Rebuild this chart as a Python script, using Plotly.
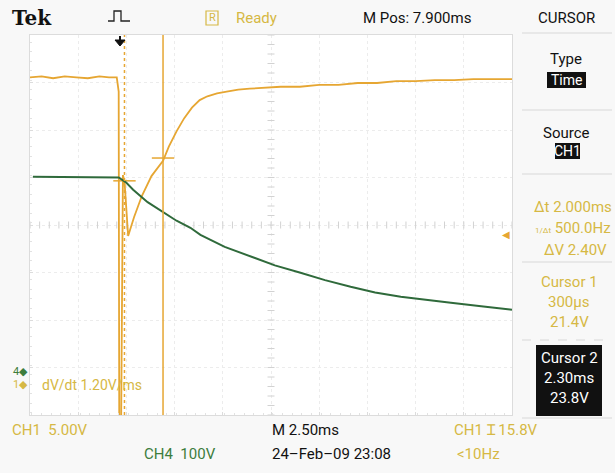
import plotly.graph_objects as go

# ---- acquisition settings -------------------------------------------------
TIME_PER_DIV = 2.5          # ms / div
H_DIVS, V_DIVS = 10, 8
M_POS = 7.9                 # ms at screen centre (trigger at t = 0)
CH1_SCALE = 5.0             # V / div
CH4_SCALE = 100.0           # V / div
CH1_GND_DIV = -3.35         # ground reference, divisions from centre
CH4_GND_DIV = -3.09
TRIG_LEVEL = 15.8           # V on CH1

# cursor readout
CUR1_T, CUR1_V = 0.3, 21.4  # ms, V
CUR2_T, CUR2_V = 2.3, 23.8

# ---- waveforms --------------------------------------------------------------
ch1_t = [-4.6, -4.0, -3.4, -2.8, -2.2, -1.6, -1.0, -0.5, -0.1, 0.0, 0.03, 0.12,
         0.22, 0.3, 0.49, 0.8, 1.2, 1.7, 2.3, 2.6, 3.0, 3.4, 3.8, 4.2, 4.6,
         5.1, 5.6, 6.2, 6.8, 7.6, 8.4, 9.4, 10.4, 11.4, 12.4, 13.4, 14.4,
         15.4, 16.4, 17.4, 18.4, 19.4, 20.4]
ch1_v = [32.3, 32.4, 32.2, 32.4, 32.3, 32.2, 32.4, 32.3, 32.3, 30.8, -6.0, -6.0,
         22.0, 21.4, 15.6, 17.6, 19.8, 21.9, 23.5, 25.0, 26.6, 28.0, 29.1, 29.9,
         30.3, 30.6, 30.8, 31.0, 31.1, 31.2, 31.3, 31.3, 31.5, 31.5, 31.7, 31.7,
         31.9, 31.9, 32.0, 32.0, 32.1, 32.1, 32.1]

ch4_t = [-4.45, -3.5, -2.5, -1.5, -0.5, 0.0, 0.4, 0.75, 1.5, 2.31, 3.0, 3.72,
         4.24, 5.5, 6.84, 8.1, 9.43, 10.7, 12.03, 13.3, 14.63, 15.9, 17.23,
         18.8, 20.4]
ch4_v = [410.5, 410.0, 411.0, 410.5, 410.0, 409.0, 398.0, 383.2, 357.0, 336.8,
         318.0, 303.2, 288.4, 263.0, 242.1, 224.0, 208.4, 193.0, 178.9, 167.0,
         157.9, 151.0, 145.3, 138.0, 130.5]

# ---- colours / fonts ----------------------------------------------------------
YEL_TRACE = "#e6a632"
YEL_TEXT = "#d6b844"
GRN_TRACE = "#2f6a3b"
GRN_TEXT = "#3d7d3d"
GRID = "#ececec"
EDGE = "#dcdcdc"
FONT = "Roboto, sans-serif"

W, H = 615, 473
L, R, T, B = 30, 103, 35, 58          # graticule position in the window


def px(x):
    return (x - L) / (W - L - R)


def py(y):
    return (H - B - y) / (H - T - B)


t_min = M_POS - TIME_PER_DIV * H_DIVS / 2
t_max = M_POS + TIME_PER_DIV * H_DIVS / 2
ch1_range = [(-V_DIVS / 2 - CH1_GND_DIV) * CH1_SCALE, (V_DIVS / 2 - CH1_GND_DIV) * CH1_SCALE]
ch4_range = [(-V_DIVS / 2 - CH4_GND_DIV) * CH4_SCALE, (V_DIVS / 2 - CH4_GND_DIV) * CH4_SCALE]

fig = go.Figure()

# centre-line division ticks of the graticule
fig.add_trace(go.Scatter(
    x=[t_min + i * TIME_PER_DIV / 5 for i in range(H_DIVS * 5 + 1)],
    y=[(0 - CH1_GND_DIV) * CH1_SCALE] * (H_DIVS * 5 + 1),
    mode="markers", marker=dict(symbol="line-ns", size=5, line=dict(color="#d2d2d2", width=1)),
    hoverinfo="skip", showlegend=False))
fig.add_trace(go.Scatter(
    x=[M_POS] * (V_DIVS * 5 + 1),
    y=[ch1_range[0] + i * CH1_SCALE / 5 for i in range(V_DIVS * 5 + 1)],
    mode="markers", marker=dict(symbol="line-ew", size=5, line=dict(color="#d2d2d2", width=1)),
    hoverinfo="skip", showlegend=False))

fig.add_trace(go.Scatter(x=ch4_t, y=ch4_v, yaxis="y2", mode="lines",
                         line=dict(color=GRN_TRACE, width=2), showlegend=False))
fig.add_trace(go.Scatter(x=ch1_t, y=ch1_v, mode="lines",
                         line=dict(color=YEL_TRACE, width=1.8), showlegend=False))

# cursor crossing marks on CH1
fig.add_trace(go.Scatter(x=[CUR1_T, CUR2_T], y=[CUR1_V, CUR2_V], mode="markers",
                         marker=dict(symbol="line-ew", size=16, line=dict(color=YEL_TRACE, width=1.5)),
                         showlegend=False))

axis_common = dict(showline=True, linecolor=EDGE, mirror=True, zeroline=False,
                   showticklabels=False, ticks="inside", ticklen=3, tickcolor=EDGE,
                   griddash="dot", gridcolor=GRID, gridwidth=1)
fig.update_layout(
    width=W, height=H,
    margin=dict(l=L, r=R, t=T, b=B),
    paper_bgcolor="#f8f8f8", plot_bgcolor="#ffffff",
    xaxis=dict(range=[t_min, t_max], dtick=TIME_PER_DIV, tick0=t_min,
               minor=dict(dtick=TIME_PER_DIV / 5, ticks="inside", ticklen=2, tickcolor="#e2e2e2"),
               **axis_common),
    yaxis=dict(range=ch1_range, dtick=CH1_SCALE, tick0=ch1_range[0],
               minor=dict(dtick=CH1_SCALE / 5, ticks="inside", ticklen=2, tickcolor="#e2e2e2"),
               **axis_common),
    yaxis2=dict(range=ch4_range, overlaying="y", showgrid=False, showline=False,
                showticklabels=False, zeroline=False),
)

shapes = [
    # cursors
    dict(type="line", xref="x", yref="paper", x0=CUR1_T, x1=CUR1_T, y0=0, y1=1,
         line=dict(color=YEL_TRACE, width=1.5, dash="dot")),
    dict(type="line", xref="x", yref="paper", x0=CUR2_T, x1=CUR2_T, y0=0, y1=1,
         line=dict(color=YEL_TRACE, width=1.5)),
]


def pshape(kind, x0, y0, x1, y1, **kw):
    return dict(type=kind, xref="paper", yref="paper", x0=px(x0), x1=px(x1),
                y0=py(y0), y1=py(y1), **kw)


# trigger waveform icon and trigger position arrow
icon = [(108, 21), (114, 21), (114, 11), (121, 11), (121, 21), (130, 21)]
path = "M " + " L ".join(f"{px(a)},{py(b)}" for a, b in icon)
shapes.append(dict(type="path", xref="paper", yref="paper", path=path,
                   line=dict(color="#222", width=1.3)))
shapes.append(dict(type="path", xref="paper", yref="paper",
                   path=f"M {px(115)},{py(40)} L {px(125)},{py(40)} L {px(120)},{py(46)} Z",
                   fillcolor="#111", line=dict(color="#111", width=1)))
shapes.append(pshape("line", 120, 36, 120, 41, line=dict(color="#111", width=2)))
# "Ready" status box
shapes.append(pshape("rect", 206, 11, 218, 25, line=dict(color=YEL_TEXT, width=1.2)))
# side menu separators and highlight boxes
for yy in (33, 110, 174, 262, 418):
    shapes.append(pshape("line", 522, yy, 612, yy, line=dict(color="#d8d8d8", width=1)))
shapes.append(pshape("line", 522, 340, 612, 340, line=dict(color="#d8d8d8", width=1, dash="dash")))
shapes.append(pshape("rect", 547, 72, 586, 88, fillcolor="#111", line=dict(width=0)))
shapes.append(pshape("rect", 555, 143, 580, 159, fillcolor="#111", line=dict(width=0)))
shapes.append(pshape("rect", 536, 345, 602, 416, fillcolor="#111", line=dict(width=0)))
fig.update_layout(shapes=shapes)


def label(text, x, y, color="#111", size=15, anchor="center", family=FONT, **kw):
    return dict(text=text, xref="paper", yref="paper", x=px(x), y=py(y),
                xanchor=anchor, yanchor="middle", showarrow=False,
                font=dict(color=color, size=size, family=family), **kw)


ann = [
    label("<b>Tek</b>", 32, 18, size=20, family="DejaVu Serif, serif"),
    label("R", 212, 18, color=YEL_TEXT, size=11),
    label("Ready", 256, 18, color=YEL_TEXT),
    label("M Pos: 7.900ms", 417, 18),
    label("CURSOR", 566, 18),
    label("Type", 566, 59),
    label("Time", 566, 80, color="#fff", size=14),
    label("Source", 566, 133),
    label("CH1", 567, 151, color="#fff", size=14),
    label(f"Δt {CUR2_T - CUR1_T:.3f}ms", 573, 207, color=YEL_TEXT),
    label(f"<span style='font-size:8px'>1/Δt</span> {1000 / (CUR2_T - CUR1_T):.1f}Hz",
          573, 228, color=YEL_TEXT),
    label(f"ΔV {CUR2_V - CUR1_V:.2f}V", 575, 250, color=YEL_TEXT),
    label("Cursor 1", 569, 282, color=YEL_TEXT),
    label(f"{CUR1_T * 1000:.0f}µs", 569, 302, color=YEL_TEXT),
    label(f"{CUR1_V:.1f}V", 569, 322, color=YEL_TEXT),
    label("Cursor 2", 569, 358, color="#fff"),
    label(f"{CUR2_T:.2f}ms", 569, 378, color="#fff"),
    label(f"{CUR2_V:.1f}V", 569, 398, color="#fff"),
    label(f"CH1  {CH1_SCALE:.2f}V", 10, 430, color=YEL_TEXT, anchor="left"),
    label(f"CH4  {CH4_SCALE:.0f}V", 142, 454, color=GRN_TEXT, anchor="left"),
    label(f"M {TIME_PER_DIV:.2f}ms", 270, 430, anchor="left"),
    label("24–Feb–09 23:08", 270, 454, anchor="left"),
    label(f"CH1 Ɪ {TRIG_LEVEL:.1f}V", 452, 430, color=YEL_TEXT, anchor="left"),
    label("&lt;10Hz", 455, 454, color=YEL_TEXT, anchor="left"),
    label(f"dV/dt {(CUR2_V - CUR1_V) / (CUR2_T - CUR1_T):.2f}V/ms", 40, 385,
          color=YEL_TEXT, size=14, anchor="left"),
    # ground reference markers
    dict(text="4◆", xref="paper", yref="y2", x=px(11), y=0, xanchor="left", yanchor="middle",
         showarrow=False, font=dict(color=GRN_TEXT, size=11, family=FONT)),
    dict(text="1◆", xref="paper", yref="y", x=px(11), y=0, xanchor="left", yanchor="middle",
         showarrow=False, font=dict(color=YEL_TEXT, size=11, family=FONT)),
    # trigger level marker
    dict(text="◀", xref="paper", yref="y", x=1, y=TRIG_LEVEL, xanchor="right", yanchor="middle",
         showarrow=False, font=dict(color=YEL_TRACE, size=10)),
]
fig.update_layout(annotations=ann)

fig.write_html("out.html")
